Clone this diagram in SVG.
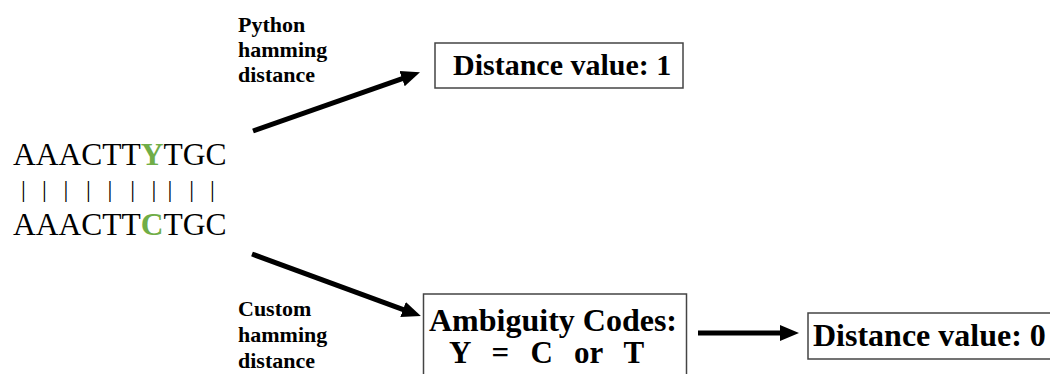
<svg xmlns="http://www.w3.org/2000/svg" width="1050" height="374" viewBox="0 0 1050 374">
<style>
.seq{font-family:"Liberation Serif","Times New Roman",serif;font-size:31.5px;fill:#000}
.hl{font-weight:bold;fill:#70AD47}
.pipe{font-family:"Liberation Serif","Times New Roman",serif;font-size:24px;fill:#000}
.lbl{font-family:"Liberation Serif","Times New Roman",serif;font-size:22px;font-weight:bold;fill:#000}
.box{fill:#fff;stroke:#444;stroke-width:1.5}
.bt{font-family:"Liberation Serif","Times New Roman",serif;font-weight:bold;fill:#000}
.conn{stroke:#000;stroke-width:5;fill:none}
</style>
<defs>
<marker id="ah" markerUnits="userSpaceOnUse" markerWidth="20" markerHeight="18" viewBox="0 -9 20 18" refX="1" refY="0" orient="auto">
<path d="M0,-8 L19,0 L0,8 z" fill="#000"/>
</marker>
</defs>
<rect width="1050" height="374" fill="#fff"/>
<g id="sequences">
<text class="seq" x="13" y="165">AAACTT<tspan class="hl">Y</tspan>TGC</text>
<text class="pipe" x="20.9 41.9 63.6 85.9 107.6 130.3 151.6 167.6 189.3 209.9" y="197">||||||||||</text>
<text class="seq" x="13" y="235">AAACTT<tspan class="hl">C</tspan>TGC</text>
</g>
<g id="label-python">
<text class="lbl" x="238" y="32">Python</text>
<text class="lbl" x="238" y="57">hamming</text>
<text class="lbl" x="238" y="82">distance</text>
</g>
<g id="label-custom">
<text class="lbl" x="238" y="316">Custom</text>
<text class="lbl" x="238" y="342">hamming</text>
<text class="lbl" x="238" y="368">distance</text>
</g>
<g id="box-distance-1">
<rect class="box" x="435" y="43" width="248" height="45"/>
<text class="bt" x="453" y="75" font-size="30">Distance value: 1</text>
</g>
<g id="box-ambiguity">
<rect class="box" x="423.5" y="294" width="263" height="90"/>
<text class="bt" x="429" y="331" font-size="32">Ambiguity Codes:</text>
<text class="bt" x="449" y="363" font-size="31" word-spacing="13.5">Y = C or T</text>
</g>
<g id="box-distance-0">
<rect class="box" x="808" y="313" width="260" height="46"/>
<text class="bt" x="813" y="346" font-size="32">Distance value: 0</text>
</g>
<g id="connectors">
<line class="conn" x1="253" y1="131" x2="403" y2="78.3" marker-end="url(#ah)"/>
<line class="conn" x1="252" y1="254" x2="404" y2="309.8" marker-end="url(#ah)"/>
<line class="conn" x1="698" y1="333" x2="781" y2="333" marker-end="url(#ah)"/>
</g>
</svg>
